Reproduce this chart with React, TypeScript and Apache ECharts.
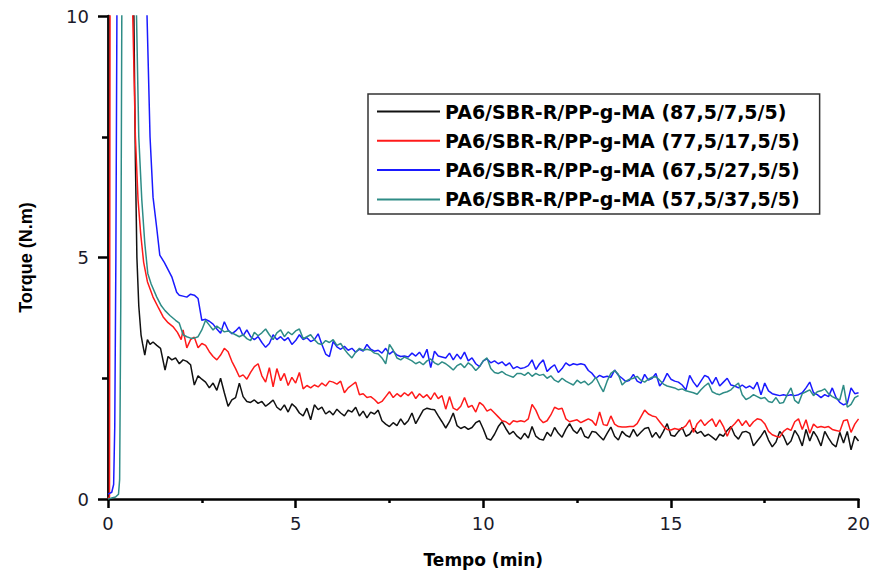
import React, { useEffect, useRef } from "react";
import * as echarts from "echarts";

// Time grid for the sampled part of each run (min)
const T_START = 2.0;
const T_STEP = 0.1;

const seriesNames = [
  "PA6/SBR-R/PP-g-MA (87,5/7,5/5)",
  "PA6/SBR-R/PP-g-MA (77,5/17,5/5)",
  "PA6/SBR-R/PP-g-MA (67,5/27,5/5)",
  "PA6/SBR-R/PP-g-MA (57,5/37,5/5)",
];
const seriesColors = ["#111111", "#ff1a1a", "#1a1aff", "#2e8c86"];

const xTicks = [0, 5, 10, 15, 20];
const yTicks = [0, 5, 10];

// Loading peak (t, torque) before 2 min
const blackStart: [number, number][] = [
  [0, 0.05], [0.01, 14], [0.66, 14], [0.69, 10], [0.73, 7], [0.77, 5], [0.82, 4.0], [0.88, 3.4],
  [0.92, 3.22], [0.98, 2.98], [1.05, 3.3], [1.12, 3.2], [1.2, 3.25], [1.3, 3.18], [1.4, 3.12],
  [1.52, 2.67], [1.6, 2.95], [1.7, 2.88], [1.8, 2.92], [1.9, 2.8],
];
const redStart: [number, number][] = [
  [0, 0], [0.04, 0.05], [0.06, 14], [0.63, 14], [0.66, 10], [0.73, 7.5], [0.8, 6.2], [0.87, 5.5],
  [0.95, 4.9], [1.05, 4.5], [1.2, 4.18], [1.35, 3.95], [1.47, 3.77], [1.6, 3.65], [1.73, 3.57],
  [1.85, 3.45], [1.95, 3.3],
];
const blueStart: [number, number][] = [
  [0, 0.1], [0.1, 0.14], [0.15, 0.3], [0.18, 1.5], [0.21, 5], [0.24, 10.5], [0.26, 14], [1.0, 14],
  [1.04, 10], [1.12, 7.5], [1.2, 6.25], [1.3, 5.6], [1.38, 5.05], [1.5, 4.9], [1.6, 4.75],
  [1.7, 4.6], [1.83, 4.28], [1.9, 4.22],
];
const tealStart: [number, number][] = [
  [0, 0], [0.2, 0.04], [0.28, 0.1], [0.31, 0.4], [0.34, 4], [0.37, 10.5], [0.39, 14], [0.73, 14],
  [0.76, 10], [0.82, 7.5], [0.9, 6.2], [0.98, 5.3], [1.06, 4.67], [1.15, 4.45], [1.3, 4.18],
  [1.42, 4.0], [1.52, 3.9], [1.65, 3.8], [1.8, 3.7], [1.9, 3.64],
];

// Torque (N.m) from 2.0 to 20.0 min, every 0.1 min
const blackTail = [
  2.88, 2.85, 2.78, 2.36, 2.55, 2.48, 2.42, 2.30, 2.40, 2.25,
  2.50, 2.20, 1.92, 2.05, 2.10, 2.40, 2.12, 2.02, 2.00, 2.05,
  1.98, 2.02, 1.92, 1.98, 2.05, 1.90, 1.84, 1.95, 1.80, 1.97,
  1.90, 1.78, 1.72, 1.88, 1.64, 1.95, 1.85, 1.90, 1.76, 1.82,
  1.74, 1.86, 1.78, 1.72, 1.84, 1.80, 1.90, 1.72, 1.82, 1.68,
  1.80, 1.76, 1.84, 1.62, 1.55, 1.50, 1.58, 1.52, 1.66, 1.54,
  1.62, 1.78, 1.56, 1.70, 1.84, 1.88, 1.86, 1.85, 1.72, 1.60,
  1.47, 1.60, 1.78, 1.52, 1.46, 1.50, 1.44, 1.48, 1.58, 1.62,
  1.45, 1.25, 1.22, 1.34, 1.50, 1.60, 1.46, 1.34, 1.40, 1.30,
  1.24, 1.36, 1.26, 1.50, 1.30, 1.24, 1.22, 1.38, 1.30, 1.48,
  1.36, 1.28, 1.44, 1.56, 1.42, 1.36, 1.48, 1.30, 1.26, 1.40,
  1.38, 1.30, 1.22, 1.36, 1.49, 1.30, 1.22, 1.40, 1.32, 1.28,
  1.44, 1.30, 1.38, 1.46, 1.48, 1.28, 1.38, 1.26, 1.40, 1.56,
  1.32, 1.30, 1.40, 1.48, 1.30, 1.34, 1.46, 1.36, 1.40, 1.30,
  1.34, 1.28, 1.22, 1.34, 1.30, 1.42, 1.50, 1.32, 1.24, 1.38,
  1.40, 1.36, 1.10, 1.20, 1.30, 1.42, 1.22, 1.08, 1.18, 1.40,
  1.30, 1.12, 1.20, 1.42, 1.30, 1.10, 1.44, 1.20, 1.40, 1.28,
  1.10, 1.40, 1.26, 1.14, 1.08, 1.38, 1.16, 1.40, 1.02, 1.30,
  1.20,
];
const redTail = [
  3.50, 3.13, 3.30, 3.35, 3.13, 3.22, 3.18, 3.05, 2.95, 2.88,
  2.98, 3.12, 3.05, 2.85, 2.70, 2.53, 2.57, 2.48, 2.62, 2.74,
  2.80, 2.55, 2.42, 2.72, 2.32, 2.70, 2.45, 2.60, 2.35, 2.52,
  2.40, 2.62, 2.28, 2.35, 2.30, 2.36, 2.32, 2.40, 2.34, 2.44,
  2.42, 2.38, 2.44, 2.20, 2.30, 2.36, 2.42, 2.16, 2.18, 2.10,
  2.12, 2.06, 1.98, 2.02, 2.12, 2.22, 2.10, 2.18, 2.12, 2.20,
  2.14, 2.22, 2.08, 2.18, 2.10, 2.16, 2.06, 2.20, 2.08, 2.14,
  1.86, 2.12, 1.88, 1.84, 1.92, 2.10, 1.90, 1.94, 1.80, 2.00,
  1.94, 1.82, 1.86, 1.78, 1.70, 1.62, 1.60, 1.54, 1.62, 1.60,
  1.62, 1.60, 1.66, 1.96, 1.84, 1.66, 1.58, 1.62, 1.74, 1.90,
  1.86, 1.88, 1.66, 1.60, 1.62, 1.64, 1.58, 1.62, 1.66, 1.62,
  1.52, 1.80, 1.54, 1.52, 1.72, 1.55, 1.50, 1.49, 1.49, 1.50,
  1.50, 1.56, 1.70, 1.84, 1.76, 1.72, 1.70, 1.60, 1.50, 1.44,
  1.43, 1.46, 1.44, 1.46, 1.52, 1.64, 1.38, 1.56, 1.64, 1.52,
  1.60, 1.66, 1.50, 1.64, 1.50, 1.30, 1.48, 1.56, 1.65, 1.52,
  1.62, 1.50, 1.60, 1.66, 1.64, 1.56, 1.40, 1.33, 1.30, 1.28,
  1.40, 1.46, 1.42, 1.60, 1.66, 1.44, 1.64, 1.36, 1.55, 1.48,
  1.50, 1.48, 1.50, 1.44, 1.42, 1.40, 1.62, 1.64, 1.38, 1.55,
  1.66,
];
const blueTail = [
  4.20, 4.18, 4.24, 4.22, 4.15, 3.70, 3.72, 3.68, 3.62, 3.52,
  3.43, 3.67, 3.50, 3.42, 3.48, 3.56, 3.38, 3.50, 3.36, 3.30,
  3.36, 3.24, 3.14, 3.22, 3.40, 3.30, 3.36, 3.28, 3.34, 3.20,
  3.28, 3.40, 3.30, 3.34, 3.26, 3.30, 3.42, 3.20, 3.00, 2.95,
  3.26, 3.15, 3.10, 3.16, 3.08, 3.12, 3.04, 3.10, 3.06, 3.20,
  3.10, 3.06, 3.08, 3.02, 3.12, 3.00, 3.06, 2.98, 2.95, 2.96,
  2.94, 3.02, 2.96, 3.04, 2.92, 3.10, 2.72, 3.06, 2.96, 2.94,
  2.92, 3.02, 2.88, 3.00, 2.90, 3.04, 2.86, 2.92, 2.80, 2.74,
  2.86, 2.90, 2.82, 2.86, 2.80, 2.84, 2.76, 2.82, 2.70, 2.74,
  2.70, 2.72, 2.76, 2.88, 2.68, 2.80, 2.88, 2.64, 2.72, 2.78,
  2.62, 2.70, 2.82, 2.76, 2.80, 2.78, 2.80, 2.78, 2.66, 2.60,
  2.50, 2.56, 2.52, 2.54, 2.52, 2.67, 2.56, 2.50, 2.43, 2.46,
  2.58, 2.44, 2.40, 2.58, 2.46, 2.50, 2.60, 2.34, 2.44, 2.60,
  2.48, 2.44, 2.42, 2.36, 2.26, 2.56, 2.42, 2.32, 2.44, 2.56,
  2.52, 2.38, 2.52, 2.34, 2.42, 2.50, 2.36, 2.34, 2.30, 2.36,
  2.30, 2.34, 2.28, 2.42, 2.16, 2.40, 2.24, 2.18, 2.16, 2.14,
  2.16, 2.14, 2.16, 2.14, 2.16, 2.20, 2.30, 2.42, 2.20, 2.16,
  2.10, 2.16, 2.12, 2.30, 2.10, 2.00, 1.95, 1.98, 2.30, 2.18,
  2.20,
];
const tealTail = [
  3.40, 3.36, 3.33, 3.33, 3.36, 3.50, 3.70, 3.60, 3.50, 3.58,
  3.52, 3.46, 3.48, 3.44, 3.40, 3.36, 3.40, 3.32, 3.28, 3.45,
  3.38, 3.44, 3.52, 3.40, 3.30, 3.44, 3.50, 3.36, 3.46, 3.40,
  3.48, 3.52, 3.32, 3.36, 3.40, 3.30, 3.22, 3.20, 3.28, 3.24,
  3.30, 3.18, 3.22, 3.10, 3.00, 2.92, 3.04, 3.12, 3.08, 3.10,
  3.08, 3.02, 3.00, 2.92, 2.80, 3.20, 3.08, 2.92, 2.88, 2.94,
  2.90, 2.86, 2.80, 2.84, 2.78, 2.86, 2.90, 2.82, 2.78, 2.84,
  2.80, 2.74, 2.67, 2.76, 2.80, 2.72, 2.82, 2.76, 2.66, 2.74,
  2.86, 2.92, 2.70, 2.62, 2.60, 2.64, 2.58, 2.55, 2.52, 2.60,
  2.60, 2.56, 2.62, 2.54, 2.60, 2.56, 2.58, 2.50, 2.55, 2.46,
  2.42, 2.50, 2.44, 2.40, 2.36, 2.46, 2.40, 2.44, 2.36, 2.42,
  2.52, 2.36, 2.22, 2.44, 2.60, 2.66, 2.58, 2.36, 2.44, 2.48,
  2.50, 2.54, 2.46, 2.42, 2.48, 2.52, 2.53, 2.46, 2.38, 2.34,
  2.32, 2.30, 2.26, 2.28, 2.24, 2.22, 2.20, 2.17, 2.26, 2.34,
  2.40, 2.22, 2.18, 2.16, 2.20, 2.22, 2.26, 2.34, 2.40, 2.16,
  2.06, 2.10, 2.16, 2.12, 2.08, 2.10, 2.02, 2.00, 2.10, 1.98,
  2.00, 2.16, 2.30, 2.04, 1.98, 2.18, 2.22, 2.26, 2.14, 2.22,
  2.24, 2.28, 2.18, 2.12, 2.08, 2.05, 2.36, 1.90, 1.96, 2.10,
  2.14,
];

function buildSeries(start: [number, number][], tail: number[]): [number, number][] {
  const pts: [number, number][] = start.map((p) => [p[0], p[1]]);
  tail.forEach((v, i) => {
    const t = Math.round((T_START + i * T_STEP) * 100) / 100;
    pts.push([t, v]);
  });
  return pts;
}

export default function App() {
  const ref = useRef<HTMLDivElement>(null);

  useEffect(() => {
    if (!ref.current) return;
    const chart = echarts.init(ref.current, undefined, { renderer: "svg" });
    const datasets = [
      buildSeries(blackStart, blackTail),
      buildSeries(redStart, redTail),
      buildSeries(blueStart, blueTail),
      buildSeries(tealStart, tealTail),
    ];
    const axisColor = "#000";
    chart.setOption({
      animation: false,
      backgroundColor: "#fff",
      grid: { left: 108, right: 13, top: 16, bottom: 74, containLabel: false },
      legend: {
        orient: "vertical",
        left: 368,
        top: 94,
        icon: "rect",
        itemWidth: 63,
        itemHeight: 2,
        itemGap: 8.3,
        padding: [7, 20, 4, 9],
        borderColor: "#333",
        borderWidth: 1.5,
        selectedMode: false,
        data: seriesNames,
        textStyle: {
          fontFamily: "DejaVu Sans",
          fontWeight: "bold",
          fontSize: 19,
          lineHeight: 21,
          color: "#000",
        },
      },
      xAxis: {
        type: "value",
        min: xTicks[0],
        max: xTicks[xTicks.length - 1],
        interval: xTicks[1] - xTicks[0],
        name: "Tempo (min)",
        nameLocation: "middle",
        nameGap: 52,
        nameTextStyle: { fontFamily: "DejaVu Sans", fontWeight: "bold", fontSize: 17, color: "#000" },
        axisLine: { show: true, onZero: false, lineStyle: { color: axisColor, width: 2.5 } },
        axisTick: { show: true, length: 9, lineStyle: { color: axisColor, width: 2.5 } },
        minorTick: { show: true, splitNumber: 2, length: 4, lineStyle: { color: axisColor, width: 2.5 } },
        splitLine: { show: false },
        minorSplitLine: { show: false },
        axisLabel: { margin: 15, fontFamily: "DejaVu Sans", fontSize: 18, color: "#1a1a2a" },
      },
      yAxis: {
        type: "value",
        min: yTicks[0],
        max: yTicks[yTicks.length - 1],
        interval: yTicks[1] - yTicks[0],
        name: "Torque (N.m)",
        nameLocation: "middle",
        nameGap: 73,
        nameTextStyle: { fontFamily: "Liberation Sans", fontWeight: "bold", fontSize: 18, color: "#000" },
        axisLine: { show: true, onZero: false, lineStyle: { color: axisColor, width: 2.7 } },
        axisTick: { show: true, length: 10, lineStyle: { color: axisColor, width: 2.5 } },
        minorTick: { show: true, splitNumber: 2, length: 6, lineStyle: { color: axisColor, width: 2.5 } },
        splitLine: { show: false },
        minorSplitLine: { show: false },
        axisLabel: { margin: 19, fontFamily: "DejaVu Sans", fontSize: 18, color: "#1a1a2a" },
      },
      series: seriesNames.map((name, i) => ({
        name,
        type: "line",
        data: datasets[i],
        showSymbol: false,
        symbol: "none",
        clip: true,
        color: seriesColors[i],
        lineStyle: { color: seriesColors[i], width: 1.5 },
      })),
    });
    return () => chart.dispose();
  }, []);

  return (
    <div
      ref={ref}
      style={{ position: "absolute", left: 0, top: 0, width: 873, height: 573, background: "#fff" }}
    />
  );
}
